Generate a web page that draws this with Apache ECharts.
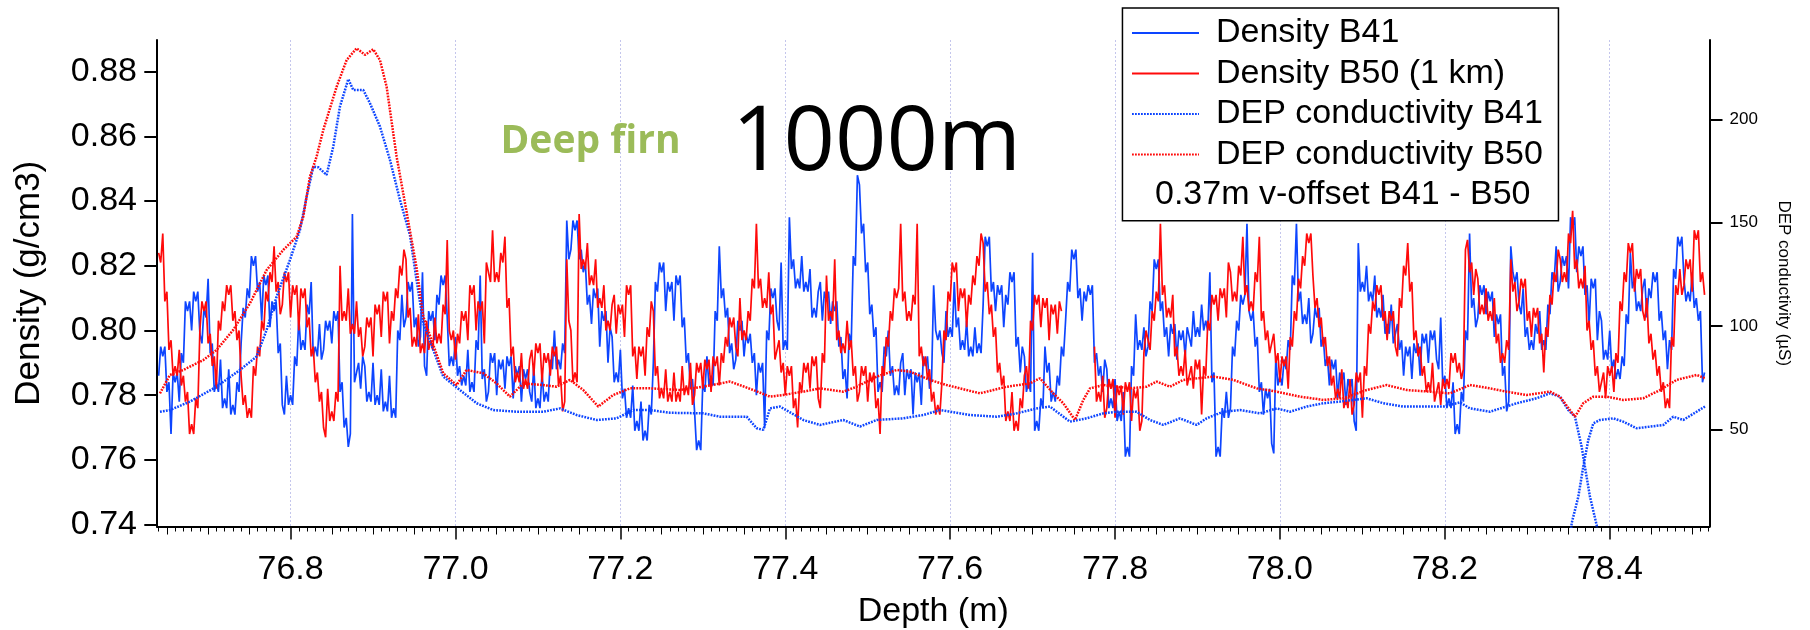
<!DOCTYPE html>
<html><head><meta charset="utf-8">
<script src="https://cdn.jsdelivr.net/npm/echarts@6/dist/echarts.min.js"></script>
<style>html,body{margin:0;padding:0;background:#fff}#c{width:1810px;height:630px}</style>
</head><body><div id="c"></div>
<script>
// ---- data ----
const DEPTH_START = 76.64;    // first density sample (m)
const DEPTH_STEP = 0.0025;    // density sampling step (m)

const densityB41 = [
.786,.795,.792,.795,.781,.784,.768,.787,.784,.787,.778,.793,.790,.809,.806,.809,.800,.812,.809,.812,
.799,.796,.807,.804,.816,.793,.796,.781,.784,.781,.791,.776,.779,.776,.788,.774,.777,.774,.784,.781,
.796,.807,.804,.813,.810,.823,.820,.823,.812,.815,.803,.817,.814,.817,.801,.809,.806,.809,.793,.796,
.777,.774,.786,.777,.780,.777,.792,.789,.804,.794,.797,.794,.808,.805,.815,.792,.795,.792,.802,.791,
.794,.803,.800,.803,.796,.806,.803,.806,.781,.784,.770,.773,.764,.768,.836,.784,.787,.790,.782,.792,
.789,.778,.781,.778,.790,.777,.780,.777,.788,.775,.778,.775,.786,.773,.776,.773,.800,.797,.811,.801,
.804,.815,.812,.815,.801,.804,.795,.798,.818,.789,.786,.806,.803,.806,.797,.811,.808,.817,.814,.817,
.804,.789,.792,.789,.798,.786,.789,.783,.786,.783,.794,.781,.784,.781,.797,.794,.817,.785,.788,.778,
.781,.793,.790,.793,.780,.791,.788,.791,.782,.792,.789,.792,.779,.789,.786,.789,.778,.788,.785,.788,
.781,.778,.789,.776,.779,.776,.787,.778,.781,.778,.791,.788,.800,.788,.791,.788,.796,.793,.834,.822,
.825,.834,.831,.834,.822,.825,.818,.821,.808,.811,.802,.813,.810,.813,.795,.806,.803,.806,.790,.801,
.798,.784,.787,.784,.794,.779,.782,.773,.776,.773,.783,.769,.772,.769,.778,.766,.769,.766,.777,.774,
.790,.815,.812,.821,.818,.821,.806,.815,.812,.815,.803,.817,.814,.817,.801,.804,.790,.793,.782,.785,
.775,.763,.766,.763,.784,.781,.792,.783,.786,.783,.806,.803,.826,.810,.813,.804,.807,.793,.796,.788,
.791,.803,.800,.803,.792,.799,.796,.799,.790,.793,.780,.790,.787,.790,.770,.800,.797,.813,.810,.813,
.803,.800,.821,.794,.797,.794,.835,.819,.822,.813,.816,.813,.823,.812,.815,.812,.819,.804,.807,.804,
.812,.815,.803,.812,.809,.812,.802,.809,.806,.809,.795,.798,.785,.788,.779,.799,.796,.823,.820,.848,
.845,.830,.833,.818,.821,.805,.808,.798,.801,.781,.784,.781,.795,.792,.800,.786,.789,.780,.783,.780,
.790,.793,.780,.788,.785,.788,.774,.787,.784,.787,.777,.792,.789,.792,.782,.785,.814,.800,.797,.800,
.793,.790,.806,.798,.801,.798,.815,.801,.804,.794,.797,.794,.803,.792,.795,.792,.801,.793,.796,.793,
.808,.829,.826,.829,.812,.815,.806,.814,.811,.814,.801,.811,.808,.818,.815,.818,.795,.798,.787,.795,
.792,.781,.784,.781,.824,.769,.772,.769,.779,.776,.795,.787,.790,.778,.781,.778,.786,.783,.795,.792,
.803,.815,.812,.825,.822,.825,.810,.813,.803,.812,.809,.814,.811,.814,.790,.793,.786,.789,.781,.791,
.788,.776,.779,.776,.785,.772,.775,.772,.781,.761,.764,.761,.789,.786,.805,.794,.797,.794,.801,.792,
.795,.809,.806,.822,.819,.822,.806,.809,.798,.801,.792,.802,.799,.802,.791,.800,.797,.800,.792,.801,
.798,.795,.806,.798,.801,.798,.808,.800,.803,.800,.818,.784,.787,.761,.764,.761,.776,.773,.781,.773,
.776,.795,.792,.803,.800,.811,.808,.811,.833,.806,.803,.806,.795,.798,.781,.784,.774,.782,.779,.782,
.765,.762,.792,.783,.786,.783,.791,.788,.797,.794,.817,.814,.833,.809,.812,.802,.805,.802,.810,.796,
.799,.807,.804,.807,.795,.798,.789,.792,.783,.791,.788,.791,.779,.787,.784,.787,.777,.785,.782,.785,
.772,.769,.827,.812,.815,.812,.820,.809,.812,.809,.817,.804,.807,.804,.811,.799,.802,.799,.808,.796,
.799,.802,.794,.797,.786,.795,.792,.795,.785,.796,.793,.796,.786,.799,.796,.799,.790,.800,.797,.800,
.791,.788,.804,.783,.786,.776,.779,.776,.784,.768,.771,.768,.781,.778,.800,.797,.830,.807,.810,.801,
.804,.814,.811,.814,.805,.812,.809,.812,.798,.805,.802,.805,.786,.789,.775,.778,.826,.818,.815,.818,
.808,.805,.813,.798,.801,.794,.797,.794,.802,.799,.806,.794,.797,.794,.808,.805,.818,.815,.826,.812,
.815,.823,.820,.823,.813,.835,.832,.835,.818,.826,.823,.826,.811,.814,.802,.816,.813,.816,.797,.806,
.803,.791,.794,.791,.800,.788,.791,.785,.788,.785,.792,.789,.805,.802,.824,.813,.816,.806,.809,.806,
.813,.816,.804,.813,.810,.818,.815,.818,.803,.806,.797,.800,.788,.797,.794,.819,.816,.829,.826,.829,
.816,.809,.812,.809,.818,.807,.810,.803,.806,.784,.787
];

const densityB50 = [
.824,.821,.830,.809,.812,.794,.797,.786,.789,.786,.794,.783,.786,.778,.781,.768,.771,.768,.779,.776,
.800,.809,.806,.809,.796,.799,.789,.792,.782,.803,.800,.809,.806,.814,.811,.814,.803,.806,.797,.800,
.786,.777,.780,.773,.776,.773,.789,.786,.795,.792,.803,.800,.812,.809,.818,.815,.826,.812,.815,.805,
.808,.818,.815,.818,.804,.814,.811,.814,.800,.813,.810,.813,.801,.804,.792,.795,.784,.787,.778,.781,
.770,.767,.782,.772,.775,.772,.781,.778,.820,.803,.806,.803,.813,.799,.802,.799,.809,.798,.801,.792,
.795,.804,.801,.804,.792,.808,.805,.808,.798,.812,.809,.812,.796,.806,.803,.813,.810,.820,.817,.825,
.822,.804,.807,.795,.798,.795,.805,.793,.796,.793,.803,.794,.797,.794,.804,.796,.799,.796,.808,.805,
.828,.800,.797,.800,.791,.799,.796,.806,.803,.806,.797,.814,.811,.814,.800,.809,.806,.809,.796,.821,
.818,.815,.831,.815,.818,.815,.824,.821,.829,.807,.810,.792,.795,.784,.787,.784,.793,.782,.785,.782,
.791,.794,.786,.796,.793,.796,.784,.793,.790,.793,.786,.795,.792,.795,.783,.786,.775,.778,.822,.803,
.800,.784,.787,.784,.836,.819,.822,.819,.827,.814,.817,.814,.822,.807,.810,.807,.814,.800,.803,.800,
.808,.811,.799,.808,.805,.808,.798,.814,.811,.814,.792,.795,.785,.795,.792,.795,.786,.801,.798,.809,
.806,.786,.789,.779,.782,.779,.788,.778,.781,.778,.787,.778,.781,.778,.789,.780,.783,.780,.790,.777,
.780,.790,.787,.790,.782,.791,.788,.791,.781,.792,.789,.792,.783,.793,.790,.798,.795,.804,.801,.804,
.795,.792,.810,.797,.800,.797,.806,.803,.816,.813,.833,.813,.816,.807,.810,.807,.818,.805,.808,.791,
.794,.797,.787,.790,.780,.789,.786,.789,.776,.779,.770,.784,.781,.790,.787,.790,.782,.792,.789,.792,
.779,.776,.793,.790,.817,.803,.806,.803,.822,.797,.800,.793,.796,.793,.803,.794,.797,.786,.789,.778,
.781,.789,.786,.789,.778,.787,.784,.787,.776,.779,.768,.789,.786,.798,.795,.806,.803,.813,.810,.813,
.833,.809,.812,.803,.806,.803,.811,.808,.833,.792,.795,.789,.792,.785,.788,.778,.781,.774,.777,.774,
.784,.800,.797,.812,.809,.821,.818,.821,.806,.813,.810,.813,.801,.811,.808,.817,.814,.823,.820,.830,
.827,.812,.815,.805,.808,.798,.801,.787,.790,.783,.786,.772,.775,.772,.781,.769,.772,.769,.779,.776,
.786,.789,.782,.803,.800,.811,.808,.811,.801,.810,.807,.810,.797,.808,.805,.808,.799,.809,.806,null,
null,null,null,null,null,null,null,null,null,null,null,null,null,null,.795,.778,.781,.778,.786,.773,
.776,.785,.782,.785,.773,.783,.780,.783,.774,.784,.781,.784,.772,.782,.779,.782,.769,.772,.793,.800,
.797,.794,.806,.803,.812,.809,.833,.811,.814,.804,.807,.804,.811,.792,.795,.786,.789,.786,.794,.783,
.786,.789,.782,.791,.788,.791,.774,.789,.786,.803,.800,.811,.808,.811,.803,.813,.810,.813,.804,.821,
.818,.809,.812,.809,.820,.817,.829,.811,.814,.806,.809,.806,.818,.815,.829,.803,.806,.797,.800,.793,
.796,.799,.790,.793,.784,.792,.789,.792,.782,.798,.795,.806,.803,.816,.813,.823,.820,.830,.827,.830,
.817,.807,.810,.801,.804,.795,.798,.789,.792,.783,.786,.779,.782,.779,.788,.776,.779,.776,.785,.774,
.777,.787,.784,.787,.773,.789,.786,.802,.799,.809,.806,.814,.811,.814,.803,.806,.797,.806,.803,.806,
.795,.792,.810,.807,.820,.817,.827,.812,.815,.797,.800,.792,.795,.786,.789,.781,.784,.781,.790,.778,
.781,.784,.777,.785,.782,.785,.782,.793,.790,.793,.787,.790,.785,.788,.825,.828,.818,.821,.811,.819,
.816,.805,.808,.805,.813,.803,.806,.803,.810,.796,.799,.790,.793,.790,.797,.794,.822,.812,.815,.806,
.809,.816,.813,.816,.803,.806,.798,.807,.804,.807,.796,.799,.787,.801,.798,.811,.808,.818,.815,.825,
.822,.815,.818,.815,.830,.827,.837,.819,.822,.813,.816,.813,.820,.800,.803,.794,.797,.786,.789,.781,
.784,.787,.779,.789,.786,.789,.781,.793,.790,.809,.806,.818,.815,.827,.824,.827,.812,.819,.816,.819,
.806,.803,.810,.796,.799,.791,.794,.786,.789,.781,.784,.776,.779,.776,.798,.795,.814,.811,.819,.811,
.814,.822,.819,.822,.812,.831,.828,.831,.815,.818,.811
];

// DEP conductivity [depth (m), conductivity (µS)]
const depB41 = [
[76.6416,58.5],[76.6537,59.3],[76.678,63.4],[76.7103,70.6],[76.7386,78.7],[76.7588,85.2],[76.771,98.1],[76.7831,114.2],
[76.7993,132],[76.8114,146.5],[76.8195,162.6],[76.8276,177.1],[76.8336,176.8],[76.8437,173.1],[76.8518,186.8],[76.8599,206.2],
[76.87,219.4],[76.8761,214.2],[76.8882,214.2],[76.8963,207.8],[76.9084,196.5],[76.9206,180.3],[76.9327,161],[76.9448,144],
[76.9529,122],[76.961,101.3],[76.9852,75.5],[77.0054,69],[77.0257,62.6],[77.0459,59.3],[77.0742,58.5],[77.1065,58.5],
[77.1267,60.1],[77.147,56.9],[77.1712,54.5],[77.1955,55.3],[77.2157,59.3],[77.2359,59.3],[77.2602,58],[77.3006,57.7],
[77.3208,56.1],[77.3532,56.1],[77.3653,50.5],[77.3734,49.7],[77.3815,60.1],[77.3936,61],[77.4219,54.5],[77.4421,52.1],
[77.4704,54.5],[77.4906,51.3],[77.5109,54.5],[77.5432,55.3],[77.5675,56.9],[77.5877,59.3],[77.624,56.9],[77.6564,56.1],
[77.6806,57.7],[77.7049,60.1],[77.721,61],[77.7453,53.7],[77.7655,55.3],[77.7857,57.7],[77.8019,58.5],[77.8262,58.5],
[77.8423,54.5],[77.8585,52.1],[77.8787,55.3],[77.8989,52.1],[77.9111,55.3],[77.9313,58.5],[77.9515,59.3],[77.9758,57.7],
[77.996,60.1],[78.0122,58.5],[78.0324,61],[78.0526,62.6],[78.0728,63.4],[78.1052,65],[78.1254,62.6],[78.1496,61],
[78.1739,61],[78.1982,61],[78.2184,63],[78.2305,60.1],[78.2547,58.5],[78.2871,62.6],[78.3113,65],[78.3275,67.4],
[78.3396,65.8],[78.3497,59.3],[78.3578,56.1],[78.3659,41.6],[78.3699,31.9],[78.376,17.4],[78.3841,3.7],[78.3902,-15],
[78.3497,-15],[78.3538,4.5],[78.3619,17.4],[78.3679,31.9],[78.374,44.8],[78.3801,52.9],[78.3882,54.5],[78.4043,55.3],
[78.4164,53.7],[78.4326,50.5],[78.4488,51.3],[78.465,52.1],[78.4771,56.1],[78.4892,54.5],[78.5054,58.5],[78.5155,61]
];
const depB50 = [
[76.6416,67.4],[76.6537,76.3],[76.6698,78.7],[76.6941,83.5],[76.7103,88.4],[76.7305,98.1],[76.7508,111],[76.771,127.1],
[76.7912,136.8],[76.8074,143.2],[76.8154,152.9],[76.8235,172.3],[76.8316,182],[76.8397,194.9],[76.8559,215.8],[76.868,228.7],
[76.8801,234.4],[76.8902,231.2],[76.9003,233.9],[76.9084,228.7],[76.9165,215.8],[76.9286,182],[76.9408,155],[76.9529,128],
[76.961,104.5],[76.9852,77.1],[77.0014,71.4],[77.0135,78.7],[77.0337,77.1],[77.0499,72.2],[77.0661,65.8],[77.0822,72.2],
[77.1065,71.4],[77.1227,70.6],[77.1389,73.9],[77.155,69],[77.1732,61],[77.1914,66.6],[77.2116,69.8],[77.2359,69.8],
[77.2723,69],[77.3006,70.6],[77.333,73.1],[77.3613,69],[77.3815,65.8],[77.3977,66.6],[77.4219,68.2],[77.4421,69.8],
[77.4704,68.2],[77.4866,70.6],[77.5109,75.5],[77.5351,78.7],[77.5513,77.9],[77.5755,73.9],[77.5957,71.4],[77.6361,67.4],
[77.6685,70.6],[77.6968,72.2],[77.7089,74.7],[77.7251,67.4],[77.7372,62.6],[77.7514,54.5],[77.7615,64.2],[77.7696,69.8],
[77.7857,71.4],[77.8181,69.8],[77.8383,70.6],[77.8504,73.1],[77.8666,70.6],[77.8828,73.9],[77.9192,75.5],[77.9435,73.9],
[77.9718,69.8],[77.996,68.2],[78.0243,65.8],[78.0526,64.2],[78.0769,65],[78.1052,69],[78.1294,71.4],[78.1537,69],
[78.182,68.2],[78.2062,67.4],[78.2305,71.4],[78.2547,69.8],[78.2749,68.2],[78.2992,66.6],[78.3275,68.2],[78.3396,65.8],
[78.3517,59.3],[78.3578,56.1],[78.3679,62.6],[78.3801,65.8],[78.3962,65.8],[78.4164,64.2],[78.4407,65],[78.4609,69],
[78.4811,73.9],[78.5054,76.3],[78.5155,74.7]
];

const xTickLabels = [76.8, 77.0, 77.2, 77.4, 77.6, 77.8, 78.0, 78.2, 78.4];
const densityTicks = [0.74, 0.76, 0.78, 0.80, 0.82, 0.84, 0.86, 0.88];
const conductivityTicks = [50, 100, 150, 200];
const seriesNames = ['Density B41', 'Density B50 (1 km)', 'DEP conductivity B41', 'DEP conductivity B50'];
const offsetNote = '0.37m v-offset B41 - B50';
const labelDeep = 'Deep firn';
const labelDepth = '1000m';

// ---- chart ----
const X_MIN = 76.638, X_MAX = 78.521;
const FONT = "'Liberation Sans', Arial, Helvetica, sans-serif";
const BLUE = '#0d45ff', RED = '#ff0a0a';

const withDepth = arr => arr.map((v, i) => [+(DEPTH_START + i * DEPTH_STEP).toFixed(4), v]);

const mediumTicks = [], minorTicks = [];
for (let k = Math.ceil(X_MIN * 100); k <= Math.floor(X_MAX * 100); k++) {
  if (k % 20 === 0) continue;
  if (k % 5 === 0) mediumTicks.push(k / 100); else minorTicks.push(k / 100);
}

const baseX = { type: 'value', min: X_MIN, max: X_MAX, position: 'bottom', gridIndex: 0 };
const chart = echarts.init(document.getElementById('c'));
chart.setOption({
  animation: false,
  backgroundColor: '#fff',
  grid: { left: 157, right: 100.5, top: 40, bottom: 103.5, containLabel: false, outerBoundsMode: 'none' },
  legend: {
    orient: 'vertical', left: 1131, top: 16, padding: 0, itemGap: 6.5,
    itemWidth: 67, itemHeight: 14, data: seriesNames, selectedMode: false, z: 20,
    itemStyle: { opacity: 0 },
    textStyle: { fontSize: 34, color: '#000', fontFamily: FONT, padding: [0, 0, 0, 12] }
  },
  xAxis: [
    Object.assign({}, baseX, {
      axisLine: { show: true, onZero: false, lineStyle: { color: '#000', width: 2 } },
      axisTick: { show: true, customValues: xTickLabels, length: 13, lineStyle: { color: '#000', width: 1.5 } },
      axisLabel: { customValues: xTickLabels, formatter: v => v.toFixed(1), fontSize: 34, color: '#000', fontFamily: FONT, margin: 26 },
      splitLine: { show: true, lineStyle: { color: '#c4c6ec', width: 1, type: [2, 2] } },
      name: 'Depth (m)', nameLocation: 'middle', nameGap: 68,
      nameTextStyle: { fontSize: 34, color: '#000', fontFamily: FONT }
    }),
    Object.assign({}, baseX, {
      axisLine: { show: false, onZero: false },
      axisTick: { show: true, customValues: mediumTicks, length: 8, lineStyle: { color: '#000', width: 1 } },
      axisLabel: { show: false }, splitLine: { show: false }
    }),
    Object.assign({}, baseX, {
      axisLine: { show: false, onZero: false },
      axisTick: { show: true, customValues: minorTicks, length: 5, lineStyle: { color: '#000', width: 1 } },
      axisLabel: { show: false }, splitLine: { show: false }
    })
  ],
  yAxis: [
    {
      type: 'value', position: 'left', min: 0.7394, max: 0.8898,
      axisLine: { show: true, onZero: false, lineStyle: { color: '#000', width: 2 } },
      axisTick: { show: true, customValues: densityTicks, length: 12.7, lineStyle: { color: '#000', width: 2 } },
      axisLabel: { customValues: densityTicks, formatter: v => v.toFixed(2), fontSize: 34, color: '#000', fontFamily: FONT, margin: 20 },
      splitLine: { show: false },
      name: 'Density (g/cm3)', nameLocation: 'middle', nameGap: 110,
      nameTextStyle: { fontSize: 35, color: '#000', fontFamily: FONT }
    },
    {
      type: 'value', position: 'right', min: 2.95, max: 238.4,
      axisLine: { show: true, onZero: false, lineStyle: { color: '#000', width: 2 } },
      axisTick: { show: true, customValues: conductivityTicks, length: 13, lineStyle: { color: '#000', width: 2 } },
      axisLabel: { customValues: conductivityTicks, fontSize: 17, color: '#000', fontFamily: FONT, margin: 20 },
      splitLine: { show: false },
      name: 'DEP conductivity (µS)', nameLocation: 'middle', nameRotate: -90, nameGap: 66,
      nameTextStyle: { fontSize: 17, color: '#000', fontFamily: FONT }
    }
  ],
  series: [
    { name: seriesNames[0], type: 'line', xAxisIndex: 0, yAxisIndex: 0, data: withDepth(densityB41),
      symbol: 'none', showSymbol: false, connectNulls: false, lineStyle: { color: BLUE, width: 1.7 }, itemStyle: { color: BLUE }, z: 2 },
    { name: seriesNames[1], type: 'line', xAxisIndex: 0, yAxisIndex: 0, data: withDepth(densityB50),
      symbol: 'none', showSymbol: false, connectNulls: false, lineStyle: { color: RED, width: 1.7 }, itemStyle: { color: RED }, z: 2 },
    { name: seriesNames[2], type: 'line', xAxisIndex: 0, yAxisIndex: 1, data: depB41,
      symbol: 'none', showSymbol: false, lineStyle: { color: BLUE, width: 2.5, type: [1.8, 1.2] }, itemStyle: { color: BLUE }, z: 3 },
    { name: seriesNames[3], type: 'line', xAxisIndex: 0, yAxisIndex: 1, data: depB50,
      symbol: 'none', showSymbol: false, lineStyle: { color: RED, width: 2.5, type: [1.8, 1.2] }, itemStyle: { color: RED }, z: 3 }
  ],
  graphic: [
    { type: 'rect', left: 1121.7, top: 7.3, z: 10,
      shape: { width: 436, height: 212.7 }, style: { fill: '#fff', stroke: '#000', lineWidth: 1.5 } },
    { type: 'text', left: 1155, top: 178, z: 20,
      style: { text: offsetNote, fontSize: 34, fontFamily: FONT, fill: '#000' } },
    { type: 'text', left: 500.5, top: 122, z: 5,
      style: { text: labelDeep, fontSize: 39, fontWeight: 'bold', fontFamily: "'Open Sans', sans-serif", fill: '#9BBB59' } },
    { type: 'text', left: 732, top: 99, z: 5,
      style: { text: labelDepth, fontSize: 90, fontFamily: "'Open Sans', sans-serif", fill: '#000' } }
  ]
});
</script>
</body></html>
